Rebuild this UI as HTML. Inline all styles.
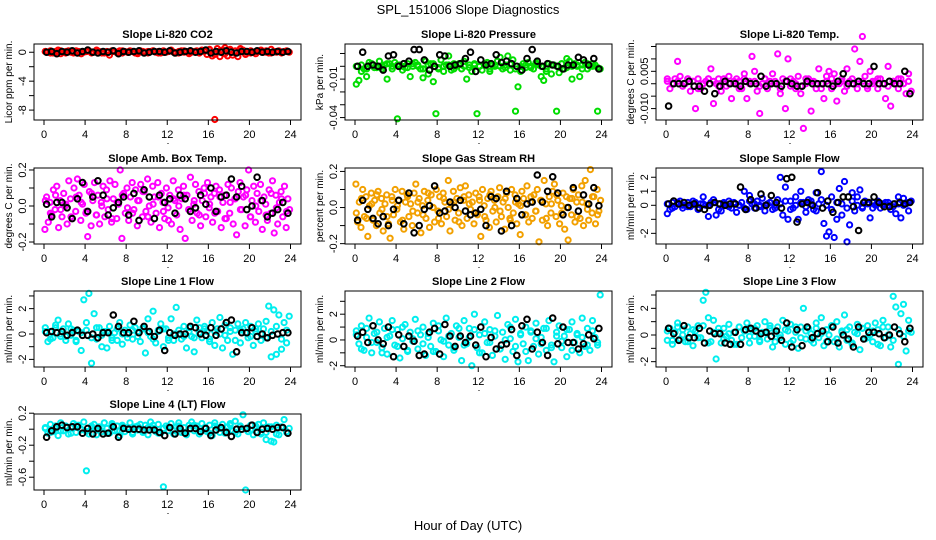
<!DOCTYPE html>
<html><head><meta charset="utf-8"><title>SPL_151006 Slope Diagnostics</title>
<style>
html,body{margin:0;padding:0;background:#fff;}
svg{display:block;font-family:"Liberation Sans",Arial,sans-serif;}
</style></head>
<body>
<svg id="chart" width="936" height="540" viewBox="0 0 936 540" xmlns="http://www.w3.org/2000/svg">
<rect width="936" height="540" fill="#fff"/>
<text x="468" y="14" text-anchor="middle" font-size="13">SPL_151006  Slope Diagnostics</text>
<text x="468" y="530" text-anchor="middle" font-size="13">Hour of Day (UTC)</text>
</svg>
<script>
const xTicks=[0,4,8,12,16,20,24];
const co2Color=[0.1,0,0.2,-0.1,0.1,0.3,-0.2,0,0.1,0.2,0,-0.1,0.2,0.1,-0.2,0,0.1,0.2,-0.1,0,0.3,0.1,0,-0.1,0.1,-0.4,0.2,0.1,0,0.2,-0.1,0.1,0,0.2,0.1,-0.1,0,0.2,0.1,0,-0.1,0.1,0.2,0,0.1,-0.1,0.2,0,0.1,0.3,0,-0.1,0.1,0.2,0,0.1,-0.2,0,0.1,0.2,-0.1,0.3,0.1,-0.3,0.4,-0.5,-9.3,0.5,-0.6,0.3,0.6,-0.5,0.4,-0.4,0.2,-0.6,0.5,0.3,-0.3,0.1,0.2,0,-0.2,0.1,0.3,0,0.2,-0.1,0.4,0.1,0,0.2,-0.1,0.1,0.2,0];
const co2Core=[0.1,-0.1,0,0.2,-0.1,0.1,0,-0.2,0.1,0,0.2,-0.1,0,0.1,-0.1,0.2,0,0.1,-0.2,0,0.1,0.2,-0.1,0,0.1,0,-0.1,0.2,0,0.1,-0.1,0.2,0.3,-0.3,0.2,-0.2,0.3,-0.1,0.2,0,-0.1,0.1,0.2,0,-0.1,0.1,0,0.1];
const co2Black=[0,0.1,-0.2,0.1,0,0.2,-0.1,0.1,0.3,0,-0.1,0.1,0,0.2,-0.2,0.1,0,0.1,0.2,-0.1,0,0.1,0.1,0,0.2,-0.1,0,0.1,0.2,0,0.1,0.3,-0.1,0.1,0,0.2,0,-0.1,0.1,0.1,0,0.2,0,0.1,0,0.1,0,0.1];
const presColor=[-0.014,-0.011,-0.004,-0.002,-0.008,0.003,0.002,-0.001,0,0.004,-0.002,0.001,-0.010,0.002,0,0.003,-0.041,0.001,-0.003,-0.001,0.002,-0.008,0,0.003,0.001,-0.002,-0.009,0.004,-0.006,0.002,-0.012,-0.037,-0.002,0.005,-0.004,0.001,0.008,-0.003,0.002,0,0.001,-0.002,0.004,-0.010,0.001,-0.004,0.002,-0.037,0,-0.003,0.002,0.003,-0.004,0.001,0,0.004,0.007,-0.002,0.001,0.008,-0.003,0.005,-0.035,-0.016,-0.004,0.002,-0.001,0.003,0,-0.002,0.003,0.001,-0.008,-0.011,-0.004,0.002,-0.006,0.001,-0.035,-0.005,0.002,-0.002,0.006,0.004,-0.010,0.002,0,-0.008,0.001,0.003,-0.002,0,0.002,0.001,-0.035,-0.002];
const presCore=[0,0.001,-0.002,0.002,-0.001,0,0.002,-0.002,0.001,0,-0.001,0.002,0,-0.002,0.001,0.002,-0.001,0,0.001,-0.002,0.002,0,-0.001,0.001,0,0.002,-0.002,0.001,0,-0.001,0.002,-0.002,0,0.001,-0.001,0.002,0,-0.002,0.001,0,0.002,-0.001,0,0.001,-0.002,0.002,0,-0.001];
const presBlack=[0,0.011,0,0.001,0,-0.003,0.008,0.009,0,0.002,0.004,0.013,0.013,0.005,-0.003,0,0.009,0.008,0,0.001,0.002,0.006,0.011,-0.004,0.005,0.001,0.002,0.009,0.003,0.004,0.002,0,-0.003,0.006,0.013,0.004,0,0.002,0.001,0,-0.002,0.001,0.001,0.007,0.005,0.001,0.006,-0.002];
const tempColor=[0.001,-0.002,0.0,0.002,0.009,0.003,-0.001,0.000,0.002,-0.003,0.001,-0.010,0.002,-0.002,0.000,0.001,0.002,0.006,-0.008,0.000,0.002,-0.003,0.001,-0.001,0.003,-0.006,0.000,0.002,0.001,-0.002,0.004,-0.006,0.001,0.011,0.005,-0.003,-0.012,0.000,0.002,-0.002,0.001,0.004,0.000,0.012,-0.004,0.002,-0.010,0.010,-0.001,0.001,-0.002,0.003,-0.004,-0.018,0.000,0.002,-0.011,0.001,-0.002,0.006,0.000,-0.006,0.003,0.005,-0.002,0.004,-0.007,0.000,0.002,-0.003,0.006,0.001,0.000,0.014,-0.002,0.009,0.019,0.003,-0.001,0.005,0.000,0.001,-0.002,0.002,0.000,-0.006,0.007,-0.009,0.001,0.000,-0.002,0.002,0.000,-0.004,0.004,-0.003];
const tempCore=[0.002,0,0.001,-0.001,0.002,0.001,-0.002,0,0.002,0.001,-0.001,0.002,0,0.001,-0.002,0.002,0,0.001,-0.001,0.002,0,0.001,-0.002,0.001,0.002,0,-0.001,0.002,0.001,0,-0.002,0.001,0.002,0,0.001,-0.001,0.002,0,0.001,-0.002,0.001,0.002,0,-0.001,0.001,0.002,0,0.001];
const tempBlack=[-0.009,0.0,0.0,0.0,0.001,-0.001,-0.001,-0.003,0.0,-0.004,-0.001,0.001,0.0,0.0,-0.001,0.001,0.0,0.0,0.003,-0.001,0.0,0.0,-0.001,0.001,0.0,-0.001,-0.001,0.001,0.0,0.0,0.0,0.0,-0.001,0.001,0.004,0.0,0.0,0.001,0.0,0.0,0.007,0.0,0.0,0.001,0.0,0.0,0.005,-0.004];
const ambColor=[-0.13,0.05,-0.09,0.02,-0.05,0.09,-0.02,0.11,-0.12,0.03,-0.06,0.07,0.00,-0.10,0.14,0.04,-0.07,0.10,-0.03,0.15,0.06,-0.08,0.01,0.12,-0.04,-0.17,0.08,-0.11,0.03,0.13,-0.05,0.06,-0.10,0.02,0.11,-0.06,0.09,-0.02,0.14,-0.09,0.04,0.12,-0.07,0.01,0.20,-0.18,0.07,-0.04,0.10,-0.08,0.05,0.13,-0.02,0.09,-0.11,0.03,0.12,-0.06,0.08,-0.03,0.15,0.00,-0.09,0.11,0.05,-0.04,0.13,-0.12,0.07,0.02,-0.07,0.10,-0.01,0.06,-0.10,0.14,0.03,-0.05,0.09,-0.13,0.04,0.11,-0.18,0.06,-0.02,0.16,-0.08,0.01,0.12,-0.04,0.08,-0.11,0.03,0.10,-0.06,0.13,-0.01,0.05,-0.09,0.07,0.11,-0.03,0.09,-0.12,0.02,0.06,-0.07,0.12,-0.04,0.10,-0.10,0.04,-0.16,0.08,0.13,-0.02,0.05,-0.11,0.09,0.20,-0.06,0.03,0.11,-0.09,0.07,-0.03,0.12,-0.13,0.05,0.01,-0.08,0.09,-0.04,0.14,-0.15,0.06,-0.10,0.02,0.08,-0.06,0.11,-0.12,0.04,-0.02];
const ambCore=[0.03,-0.04,0.06,-0.02,0.01,-0.06,0.05,0.02,-0.03,0.07,-0.05,0.0,0.04,-0.07,0.02,0.06,-0.01,-0.04,0.03,0.08,-0.06,0.01,0.05,-0.03,-0.08,0.04,0.0,0.06,-0.02,0.03,-0.05,0.07,0.01,-0.04,0.05,-0.07,0.02,0.04,-0.02,0.06,-0.06,0.0,0.03,-0.05,0.07,-0.01,0.04,-0.03];
const ambBlack=[0.01,-0.06,0.02,0.02,-0.01,-0.07,0.04,0.13,-0.03,0.05,0.14,0.06,-0.05,-0.01,0.02,0.05,-0.05,0.07,-0.08,0.09,0.05,-0.07,0.06,0.02,0.04,-0.04,0.06,0.04,-0.03,-0.01,0.06,0.01,0.10,-0.03,0.05,0.06,0.15,0.05,0.11,-0.02,0.00,0.16,0.03,-0.06,-0.04,-0.02,0.02,-0.04];
const rhColor=[0.13,-0.08,0.03,-0.11,0.10,-0.05,0.06,-0.16,0.01,0.08,-0.07,0.04,-0.10,0.09,-0.03,0.05,-0.13,0.02,0.07,-0.09,-0.17,0.06,-0.04,0.10,-0.01,0.04,-0.08,0.09,-0.12,0.03,0.07,-0.05,0.02,-0.10,0.08,0.13,-0.03,0.05,-0.14,0.01,0.09,-0.06,0.04,-0.11,0.07,0.00,-0.08,0.10,-0.02,0.06,-0.09,0.08,0.03,-0.05,0.15,-0.13,0.02,0.09,-0.07,0.05,-0.03,0.11,-0.10,0.04,0.12,-0.06,0.07,-0.01,0.03,-0.09,0.08,-0.04,0.06,-0.16,0.10,0.01,-0.07,0.05,-0.11,0.09,-0.02,0.04,-0.08,0.06,0.11,-0.05,0.03,-0.12,0.08,0.00,-0.06,0.10,-0.03,0.07,-0.09,0.02,-0.15,0.09,0.05,-0.04,0.12,-0.08,0.03,-0.06,0.07,-0.02,0.10,-0.19,0.04,-0.07,0.15,0.02,-0.10,0.06,-0.03,0.09,0.13,-0.05,0.04,-0.09,0.01,0.08,-0.12,0.06,-0.18,0.05,-0.04,0.10,-0.08,0.03,0.07,-0.06,0.12,-0.10,0.15,0.02,-0.07,0.21,-0.03,0.06,-0.09,0.10,-0.02,0.04];
const rhCore=[-0.03,0.05,-0.06,0.02,0.07,-0.01,-0.05,0.04,0.01,-0.07,0.06,-0.02,0.03,-0.04,0.08,0.0,-0.06,0.05,-0.01,0.03,-0.08,0.06,0.02,-0.03,0.04,-0.05,0.07,0.0,-0.02,0.05,-0.07,0.03,0.01,-0.04,0.06,-0.02,0.04,-0.06,0.02,0.07,-0.03,0.0,0.05,-0.05,0.03,-0.01,0.06,-0.04];
const rhBlack=[-0.07,0.04,-0.01,-0.06,-0.09,-0.05,-0.10,-0.01,0.04,-0.09,0.08,-0.14,-0.10,-0.01,0.01,0.12,-0.03,-0.02,0.03,0.00,0.04,-0.02,-0.04,-0.03,-0.01,-0.10,0.06,0.05,-0.13,0.09,-0.10,0.05,-0.04,0.02,0.03,0.18,0.03,0.09,0.17,0.08,-0.04,0.00,0.11,-0.02,0.07,0.02,0.11,0.01];
const sampleColor=[-0.6,-0.3,0.2,-0.1,0.1,0.3,-0.2,0.0,0.2,-0.1,0.1,0.2,-0.3,0.1,0.6,0.0,-0.8,0.2,0.4,-0.7,0.1,-0.4,0.2,0.0,0.3,-0.2,0.1,-0.5,0.0,0.2,1.0,-0.3,0.7,0.1,-0.2,0.3,0.0,0.5,-0.4,0.1,0.2,-0.3,0.0,0.4,2.0,-0.7,1.3,-1.0,0.3,-0.2,0.6,-1.0,1.0,0.2,-0.5,0.4,0.3,-0.3,0.9,0.1,2.4,-1.3,-2.2,-1.9,0.6,-2.3,-1.0,1.2,-0.7,1.7,-2.6,-1.4,0.9,-0.4,0.6,1.1,-0.2,0.3,0.1,-0.9,0.2,0.0,0.3,-0.2,0.1,0.2,0.0,-0.3,0.1,-0.6,0.6,-0.9,0.5,0.1,-0.4,0.3];
const sampleCore=[0.1,-0.2,0.2,0,-0.1,0.3,-0.2,0.1,0,0.2,-0.3,0.1,-0.1,0.2,0,-0.2,0.3,0.1,-0.1,0,0.2,-0.2,0.1,0.3,-0.3,0,0.2,-0.1,0.1,-0.4,0.4,0,-0.3,0.2,0.1,-0.2,0.3,0,-0.1,0.2,-0.2,0.1,0,0.2,-0.1,0.1,0,0.2];
const sampleBlack=[0.1,0.3,0.1,0.2,0.0,0.1,-0.2,-0.3,0.0,0.2,0.1,0.0,0.1,0.1,1.3,-0.3,0.4,-0.2,0.8,0.0,0.7,0.2,-0.2,1.9,2.0,-1.2,0.1,0.2,0.0,0.9,-0.2,0.3,-0.5,0.2,0.6,0.6,-0.1,-1.8,0.2,0.2,0.6,0.2,-0.1,-0.1,0.1,0.2,0.1,0.2];
const line1Color=[0.5,-0.6,0.2,-0.3,0.7,1.1,-0.2,0.4,-0.5,0.8,-0.1,0.3,-0.6,0.2,-1.3,2.7,0.9,3.2,-2.3,1.6,-0.4,0.5,-1.0,0.2,-1.1,0.6,-0.3,0.1,-0.5,0.9,-0.8,0.3,0.0,0.7,-0.4,0.5,0.1,-0.6,0.4,-1.5,1.2,-0.2,1.8,-0.7,0.3,0.8,-1.0,0.4,-0.3,1.2,-0.5,2.1,0.0,-0.4,0.6,-1.1,0.2,-0.2,-1.4,1.1,0.5,-0.3,0.6,0.2,-0.6,0.9,-0.9,0.4,1.3,-1.1,0.7,-0.5,0.2,-1.6,0.3,0.8,-0.7,0.4,0.9,-0.3,0.6,-0.9,0.2,0.8,-0.5,0.4,1.0,2.2,-1.8,1.9,-1.6,1.5,-1.2,0.9,-0.7,1.4];
const line1Core=[0.2,-0.4,0.5,0,-0.2,0.4,-0.5,0.1,0.3,-0.3,0.5,-0.1,0.2,-0.5,0.4,0,-0.3,0.3,-0.2,0.5,0.1,-0.4,0.2,0.4,-0.5,0,0.3,-0.2,0.5,-0.3,0.1,0.4,-0.4,0.2,0,-0.1,0.5,-0.5,0.3,0.1,-0.2,0.4,0,-0.3,0.2,0.6,-0.4,0.3];
const line1Black=[0.1,0.2,0.1,0.2,-0.1,0.1,0.3,-0.1,-0.1,0.0,-0.3,0.1,0.1,1.5,0.6,0.1,0.1,1.0,0.1,0.6,0.2,-0.2,0.3,-1.3,0.1,-0.1,0.0,0.0,0.6,0.5,0.0,-0.1,0.5,-0.1,0.4,0.9,1.1,-1.4,0.1,0.1,0.5,-0.2,0.0,-0.3,-0.1,0.0,0.1,0.1];
const line2Color=[0.7,-0.3,1.1,-0.8,0.2,1.7,-1.0,0.5,-0.2,1.4,-0.6,0.9,-1.1,0.3,1.5,-0.4,0.8,-1.4,0.1,1.2,-0.9,0.6,-0.1,1.6,-0.7,0.4,1.0,-1.2,0.2,-0.5,1.3,-0.9,0.7,0.0,-1.3,1.7,-0.4,0.5,-0.8,1.1,0.2,-1.6,1.5,-0.3,0.9,-2.0,2.0,-0.6,0.4,-1.0,1.4,-0.2,0.8,-1.2,0.3,1.9,-0.7,0.6,-1.5,1.2,0.1,-0.9,1.6,-1.7,0.5,-0.3,1.0,-1.6,0.7,-0.5,1.3,-1.1,0.2,0.9,-0.8,1.5,-0.4,-1.7,0.6,1.1,-0.6,0.3,-1.3,0.8,1.4,-0.2,0.4,-1.0,1.7,-0.5,0.9,-0.8,1.5,0.2,-0.4,3.5];
const line2Core=[0.4,-0.7,0.9,-0.2,0.6,-1.0,0.2,0.8,-0.5,1.0,-0.8,0.1,0.7,-0.3,0.5,-0.9,1.1,-0.1,0.3,-0.6,0.9,-0.4,0.2,0.8,-1.0,0.5,-0.2,0.7,-0.7,0.0,1.0,-0.5,0.4,-0.9,0.6,0.1,-0.3,0.9,-0.6,0.3,-0.1,0.8,-0.8,0.5,0.2,-0.4,0.7,-0.2];
const line2Black=[0.3,0.6,-0.2,1.1,0.0,-0.3,1.0,-1.3,0.4,-0.5,0.3,-0.1,-1.2,-1.1,0.6,0.9,-1.1,1.2,0.3,-0.5,0.3,-0.2,0.3,-0.4,1.0,-1.3,0.2,-0.7,-0.4,-0.3,0.8,-1.2,1.1,1.6,-0.7,0.6,-0.2,-1.2,1.7,-0.3,1.0,-0.2,-0.2,-0.7,-0.3,0.4,0.1,0.9];
const line3Color=[-0.4,0.5,-0.7,0.2,0.9,-0.3,0.4,-0.5,0.6,0.1,-0.8,0.3,0.7,-0.2,2.6,3.2,1.3,-0.5,1.1,-1.8,0.2,-0.6,0.5,-0.1,0.8,-0.4,0.2,-0.7,0.6,-0.2,0.3,0.9,-0.6,0.4,-0.1,0.7,-0.5,0.2,1.0,-0.3,0.5,-0.9,0.1,0.6,-0.2,1.1,-0.7,0.3,0.8,-0.4,0.2,-1.0,0.6,2.0,-0.3,0.5,0.1,-0.6,0.9,-0.2,1.3,-0.8,0.4,0.0,0.7,-0.5,1.0,-0.9,0.3,1.5,-0.4,0.6,-0.7,0.2,0.8,-1.1,0.5,-0.3,0.7,0.0,-0.5,0.9,0.4,-0.8,1.1,-0.2,0.6,-0.9,2.9,2.1,-2.2,1.6,2.3,-1.2,1.1,0.2];
const line3Core=[0.3,-0.4,0.6,0,-0.5,0.4,-0.2,0.7,-0.6,0.2,0.5,-0.3,0.1,-0.7,0.6,0.3,-0.1,0.5,-0.4,0.2,0.7,-0.5,0,0.4,-0.6,0.6,-0.2,0.3,-0.4,0.5,0.1,-0.5,0.7,-0.3,0.2,0.4,-0.6,0.1,0.5,-0.2,0.3,-0.7,0.6,0,-0.4,0.4,-0.1,0.3];
const line3Black=[0.5,0.1,-0.4,0.7,-0.2,-0.2,0.5,-0.6,0.3,0.1,0.1,-0.6,-0.7,0.2,-0.7,0.4,0.5,0.3,0.1,0.2,-0.1,0.3,-0.4,0.9,-0.9,0.4,-0.8,0.6,-0.2,0.1,0.3,-0.5,0.6,-0.6,0.0,-0.3,-0.9,0.6,-0.3,0.2,0.2,0.1,-0.2,0.0,0.6,0.1,-0.5,0.5];
const line4Color=[0.02,-0.05,0.06,-0.03,0.01,-0.08,0.08,-0.02,0.04,-0.06,0.03,0.07,-0.04,0.05,-0.01,0.09,-0.52,-0.06,0.02,0.06,-0.07,0.03,-0.03,0.08,0.01,-0.05,0.07,-0.02,0.04,-0.08,0.05,-0.03,0.02,0.08,-0.06,0.03,-0.01,0.06,-0.04,0.05,-0.07,0.09,0.01,-0.03,0.06,-0.05,-0.72,0.04,-0.02,0.07,-0.06,0.03,0.08,-0.04,0.02,-0.07,0.05,0.09,-0.02,0.04,-0.06,0.07,0.01,-0.03,0.05,-0.08,0.08,0.02,-0.04,0.06,-0.05,0.03,0.07,-0.02,0.10,-0.06,0.04,0.18,-0.76,-0.03,0.05,-0.07,0.02,0.06,-0.04,0.08,-0.13,0.03,-0.15,-0.16,0.05,-0.07,0.03,0.12,-0.04,0.01];
const line4Core=[0.01,-0.04,0.04,-0.02,0.03,-0.05,0.05,0,-0.03,0.04,-0.01,0.02,-0.05,0.05,-0.02,0.03,0,-0.04,0.04,-0.03,0.02,0.05,-0.05,0.01,0.03,-0.02,0.04,-0.04,0,0.05,-0.03,0.02,-0.05,0.04,0.01,-0.02,0.05,-0.04,0.03,0,-0.01,0.04,-0.06,-0.04,0.03,-0.06,0.02,-0.03];
const line4Black=[-0.10,-0.02,0.03,0.05,0.02,0.03,0.03,-0.05,0.01,-0.06,0.01,-0.06,-0.05,0.03,-0.10,0.01,0.00,0.00,0.00,-0.01,-0.01,-0.01,-0.04,-0.08,0.02,-0.06,0.01,-0.05,0.01,0.01,-0.03,0.01,-0.08,-0.01,0.02,-0.04,-0.09,0.00,0.00,0.01,0.05,-0.04,0.00,0.01,0.00,0.02,0.02,-0.05];

const panels=[
 {name:'co2',title:'Slope Li-820 CO2',ylab:'Licor ppm per min.',col:0,row:0,ymin:-9.37,ymax:1.14,ticks:[0,-2,-4,-6,-8],labels:[[0,'0'],[-4,'-4'],[-8,'-8']],color:'#ff0000',c:co2Color,k:co2Core,b:co2Black},
 {name:'pressure',title:'Slope Li-820 Pressure',ylab:'kPa per min.',col:1,row:0,ymin:-0.0419,ymax:0.0174,ticks:[0.01,0,-0.01,-0.02,-0.03,-0.04],labels:[[-0.01,'-0.01'],[-0.04,'-0.04']],color:'#00dd00',c:presColor,k:presCore,b:presBlack},
 {name:'temp',title:'Slope Li-820 Temp.',ylab:'degrees C per min.',col:2,row:0,ymin:-0.0146,ymax:0.016,ticks:[0.015,0.01,0.005,0,-0.005,-0.01],labels:[[0.005,'0.005'],[-0.01,'-0.010']],color:'#ff00ff',c:tempColor,k:tempCore,b:tempBlack},
 {name:'amb-box-temp',title:'Slope Amb. Box Temp.',ylab:'degrees C per min.',col:0,row:1,ymin:-0.211,ymax:0.211,ticks:[0.2,0.1,0,-0.1,-0.2],labels:[[0.2,'0.2'],[0,'0.0'],[-0.2,'-0.2']],color:'#ff00ff',c:ambColor,k:ambCore,b:ambBlack},
 {name:'gas-rh',title:'Slope Gas Stream RH',ylab:'percent per min.',col:1,row:1,ymin:-0.202,ymax:0.219,ticks:[0.2,0.1,0,-0.1,-0.2],labels:[[0.2,'0.2'],[0,'0.0'],[-0.2,'-0.2']],color:'#f2a000',c:rhColor,k:rhCore,b:rhBlack},
 {name:'sample-flow',title:'Slope Sample Flow',ylab:'ml/min per min.',col:2,row:1,ymin:-2.76,ymax:2.66,ticks:[2,1,0,-1,-2],labels:[[2,'2'],[1,'1'],[0,'0'],[-2,'-2']],color:'#0000ff',c:sampleColor,k:sampleCore,b:sampleBlack},
 {name:'line1-flow',title:'Slope Line 1 Flow',ylab:'ml/min per min.',col:0,row:2,ymin:-2.6,ymax:3.39,ticks:[3,2,1,0,-1,-2],labels:[[2,'2'],[0,'0'],[-2,'-2']],color:'#00eeee',c:line1Color,k:line1Core,b:line1Black},
 {name:'line2-flow',title:'Slope Line 2 Flow',ylab:'ml/min per min.',col:1,row:2,ymin:-2.1,ymax:3.8,ticks:[3,2,1,0,-1,-2],labels:[[2,'2'],[0,'0'],[-2,'-2']],color:'#00eeee',c:line2Color,k:line2Core,b:line2Black},
 {name:'line3-flow',title:'Slope Line 3 Flow',ylab:'ml/min per min.',col:2,row:2,ymin:-2.4,ymax:3.3,ticks:[3,2,1,0,-1,-2],labels:[[2,'2'],[0,'0'],[-2,'-2']],color:'#00eeee',c:line3Color,k:line3Core,b:line3Black},
 {name:'line4-flow',title:'Slope Line 4 (LT) Flow',ylab:'ml/min per min.',col:0,row:3,ymin:-0.76,ymax:0.19,ticks:[0.2,0,-0.2,-0.4,-0.6],labels:[[0.2,'0.2'],[-0.2,'-0.2'],[-0.6,'-0.6']],color:'#00eeee',c:line4Color,k:line4Core,b:line4Black}
];
const lefts=[34,345,656], tops=[44,168,291,414], PW=267, PH=76;
const NS='http://www.w3.org/2000/svg';
const svg=document.getElementById('chart');
function mk(tag,attrs,parent){const e=document.createElementNS(NS,tag);for(const k in attrs)e.setAttribute(k,attrs[k]);(parent||svg).appendChild(e);return e;}
panels.forEach(p=>{
  const L=lefts[p.col],T=tops[p.row];
  const xs=t=>L+10+t/24*246.5;
  const ys=v=>T+(p.ymax-v)/(p.ymax-p.ymin)*PH;
  const g=mk('g',{});
  
  
  const tt=mk('text',{x:L+PW/2,y:T-6,'text-anchor':'middle','font-size':'11','font-weight':'bold'},g);
  tt.textContent=p.title;
  
  
  const yl=mk('text',{x:0,y:0,'text-anchor':'middle','font-size':'10',transform:`translate(${L-22},${T+PH/2}) rotate(-90)`},g);
  yl.textContent=p.ylab;
  
  
  const cg=mk('g',{fill:'none',stroke:p.color,'stroke-width':'2'},g);
  
  
  p.c.forEach((v,i)=>{
    const t=(i+0.5)*24/p.c.length;
    const c=mk('circle',{cx:xs(t).toFixed(1),cy:ys(v).toFixed(1),r:2.6},cg);
    
    
  });
  p.k.forEach((v,i)=>{
    const t=(i+0.25)*24/p.k.length;
    const c=mk('circle',{cx:xs(t).toFixed(1),cy:ys(v).toFixed(1),r:2.6},cg);
    
    
  });
  const bg=mk('g',{fill:'none',stroke:'#000','stroke-width':'2'},g);
  
  
  p.b.forEach((v,i)=>{
    const t=(i+0.5)*24/p.b.length;
    const c=mk('circle',{cx:xs(t).toFixed(1),cy:ys(v).toFixed(1),r:2.8},bg);
    
    
  });
  const fr=mk('rect',{x:L,y:T,width:PW,height:PH,fill:'none',stroke:'#000','stroke-width':'1'},g);
  
  
  const ya=mk('g',{},g);
  
  
  mk('line',{x1:L,x2:L,y1:ys(p.ticks[0]),y2:ys(p.ticks[p.ticks.length-1]),stroke:'#000'},ya);
  p.ticks.forEach(v=>mk('line',{x1:L-5,x2:L,y1:ys(v),y2:ys(v),stroke:'#000'},ya));
  p.labels.forEach(([v,s])=>{
    const t=mk('text',{x:0,y:0,'text-anchor':'middle','font-size':'11',transform:`translate(${L-8},${ys(v)}) rotate(-90)`},ya);
    t.textContent=s;
    
    
  });
  const xa=mk('g',{},g);
  
  
  const by=T+PH;
  mk('line',{x1:xs(0),x2:xs(24),y1:by,y2:by,stroke:'#000'},xa);
  xTicks.forEach(v=>{
    mk('line',{x1:xs(v),x2:xs(v),y1:by,y2:by+5,stroke:'#000'},xa);
    const t=mk('text',{x:xs(v),y:by+18,'text-anchor':'middle','font-size':'11'},xa);
    t.textContent=String(v);
    
    
  });
  mk('rect',{x:L+PW/2,y:by+23,width:1,height:1,fill:'#000'},xa);
});
</script>
</body></html>
